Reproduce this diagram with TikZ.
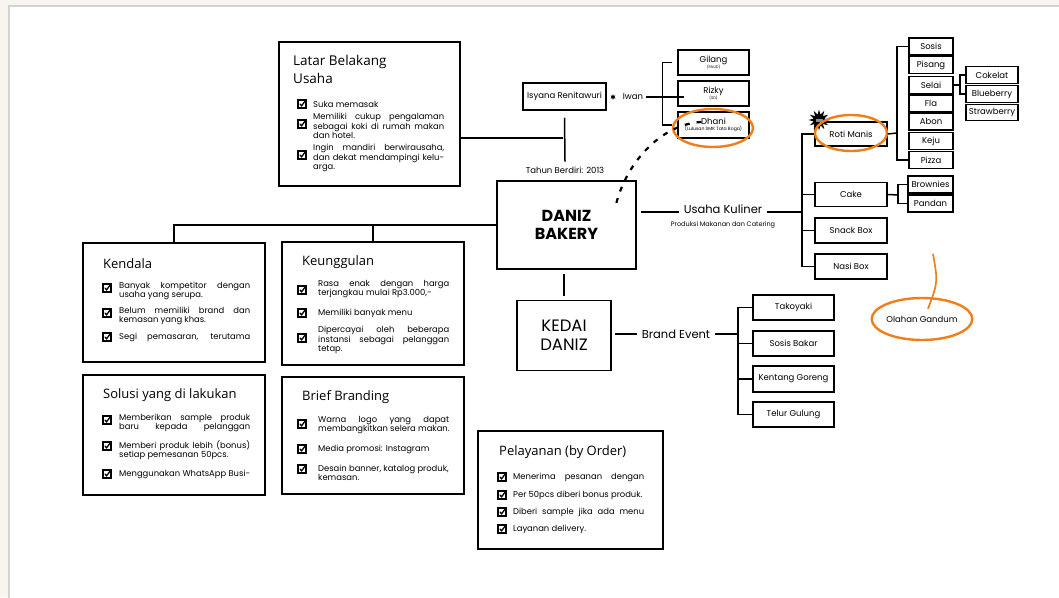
\documentclass[tikz,border=0pt]{standalone}
\usepackage{fontspec}
\setmainfont{Poppins}
\newfontfamily\headfont{Open Sans}
\usetikzlibrary{shapes.geometric}
\definecolor{paper}{HTML}{F8F5EE}
\definecolor{frameC}{HTML}{D3D3D3}
\definecolor{brush}{HTML}{EF7F1A}
\newcommand\jl[1]{\makebox[131pt][s]{#1}}

\begin{document}
\begin{tikzpicture}[x=1pt, y=-1pt,
  bigbox/.style={draw, line width=1.9pt, inner sep=0pt},
  cell/.style={draw, line width=1.5pt, inner sep=0pt, align=center, font=\fontsize{8.5}{9}\selectfont},
  title/.style={font=\headfont\fontsize{13}{17}\selectfont, inner sep=0pt, anchor=west, align=left},
  item/.style={font=\fontsize{8.4}{9.3}\selectfont, inner sep=0pt, anchor=west, align=left},
  tag/.style={inner sep=0pt, font=\fontsize{8.5}{9}\selectfont},
  link/.style={line width=1.5pt},
  hilite/.style={draw=brush, line width=2.4pt},
  chk/.pic={\fill[black] (-4.8,-4.8) rectangle (4.8,4.8);
    \fill[white] (-2.8,-2.8) rectangle (2.8,2.8);
    \draw[black, line width=1.3pt, line cap=round] (-1.9,0.1) -- (-0.4,1.8) -- (3.6,-3.6);}
]
\useasboundingbox (0,0) rectangle (1059,597);
\fill[paper] (0,0) rectangle (1059,597);
\draw[fill=white, draw=frameC, line width=2pt] (9,6) rectangle (1070,610);

% main boxes
\node[bigbox, minimum width=181, minimum height=144] (latar) at (369.5,114) {};
\node[bigbox, minimum width=182, minimum height=119] (kendala) at (174,302.5) {};
\node[bigbox, minimum width=182, minimum height=123] (keung) at (373,303.5) {};
\node[bigbox, minimum width=182, minimum height=120] (solusi) at (174,435) {};
\node[bigbox, minimum width=182, minimum height=117] (brief) at (373,435.5) {};
\node[bigbox, minimum width=185, minimum height=118] (pelayanan) at (570.5,490) {};
\node[bigbox, minimum width=139, minimum height=88, align=center, font=\bfseries\fontsize{16}{18}\selectfont] (daniz) at (566.5,225) {DANIZ\\BAKERY};
\node[bigbox, minimum width=94, minimum height=70, align=center, font=\fontsize{16.5}{19}\selectfont] (kedai) at (564,335.5) {KEDAI\\DANIZ};

% titles
\node[title, anchor=north west, font=\headfont\fontsize{13.5}{18}\selectfont] (latarT) at (293,55) {Latar Belakang\\Usaha};
\node[title] (kendalaT) at (103,264) {Kendala};
\node[title] (keungT) at (302,262) {Keunggulan};
\node[title] (solusiT) at (103,395) {Solusi yang di lakukan};
\node[title] (briefT) at (302,397) {Brief Branding};
\node[title] (pelayananT) at (499,452) {Pelayanan (by Order)};

% items
\node[item] (lat1) at (313,104) {Suka memasak};
\node[item] (lat2) at (313,126) {\jl{Memiliki cukup pengalaman}\\\jl{sebagai koki di rumah makan}\\dan hotel.};
\node[item] (lat3) at (313,158) {\jl{Ingin mandiri berwirausaha,}\\\jl{dan dekat mendampingi kelu-}\\arga.};
\node[item] (ken1) at (119,291) {\jl{Banyak kompetitor dengan}\\usaha yang serupa.};
\node[item] (ken2) at (119,316) {\jl{Belum memiliki brand dan}\\kemasan yang khas.};
\node[item] (ken3) at (119,337) {\jl{Segi pemasaran, terutama}};
\node[item] (keu1) at (318,289) {\jl{Rasa enak dengan harga}\\terjangkau mulai Rp3.000,-};
\node[item] (keu2) at (318,313) {Memiliki banyak menu};
\node[item] (keu3) at (318,340) {\jl{Dipercayai oleh beberapa}\\\jl{instansi sebagai pelanggan}\\tetap.};
\node[item] (sol1) at (119,423) {\jl{Memberikan sample produk}\\\jl{baru kepada pelanggan}};
\node[item] (sol2) at (119,450) {\jl{Memberi produk lebih (bonus)}\\setiap pemesanan 50pcs.};
\node[item] (sol3) at (119,474) {\jl{Menggunakan WhatsApp Busi-}};
\node[item] (bri1) at (318,425) {\jl{Warna logo yang dapat}\\membangkitkan selera makan.};
\node[item] (bri2) at (318,449) {Media promosi: Instagram};
\node[item] (bri3) at (318,473) {Desain banner, katalog produk,\\kemasan.};
\node[item] (pel1) at (513,477) {\jl{Menerima pesanan dengan}};
\node[item] (pel2) at (513,495) {Per 50pcs diberi bonus produk.};
\node[item] (pel3) at (513,512) {\jl{Diberi sample jika ada menu}};
\node[item] (pel4) at (513,529) {Layanan delivery.};

% check boxes
\foreach \y in {104,124,155} \pic at (302,\y) {chk};
\foreach \y in {288,313,337,420,446,474} \pic at (107,\y) {chk};
\foreach \y in {290,313,338,424,449,469} \pic at (302,\y) {chk};
\foreach \y in {477,495,512,529} \pic at (502,\y) {chk};

% founders
\node[cell, minimum width=83, minimum height=27] (isyana) at (564.5,96.5) {Isyana Renitawuri};
\node[star, star points=6, star point ratio=2.2, fill=black, minimum size=6, inner sep=0pt] (sep) at (613,97) {};
\node[tag] (iwan) at (633,97) {Iwan};
\node[tag] (tahun) at (565,170) {Tahun Berdiri: 2013};
\node[cell, minimum width=71, minimum height=25] (gilang) at (713.5,62.5) {Gilang\\[-2.5pt]{\fontsize{3.8}{4}\selectfont (PAUD)}};
\node[cell, minimum width=71, minimum height=25] (rizky) at (713.5,93.5) {Rizky\\[-2.5pt]{\fontsize{3.8}{4}\selectfont (SD)}};
\node[cell, minimum width=71, minimum height=26] (dhani) at (713.5,125) {Dhani\\[-2.5pt]{\fontsize{4.6}{5}\selectfont (Lulusan SMK Tata Boga)}};

% usaha kuliner
\node[tag, font=\fontsize{11.5}{12}\selectfont] (usaha) at (723,209) {Usaha Kuliner};
\node[tag, font=\fontsize{6.5}{7}\selectfont] (usahaSub) at (723,225) {Produksi Makanan dan Catering};
\node[cell, minimum width=72, minimum height=24] (roti) at (851,134) {Roti Manis};
\node[cell, minimum width=72, minimum height=24] (cake) at (851,194.5) {Cake};
\node[cell, minimum width=72, minimum height=25] (snack) at (851,230.5) {Snack Box};
\node[cell, minimum width=72, minimum height=25] (nasi) at (851,266.5) {Nasi Box};
\node[cell, minimum width=44, minimum height=17] (sosis) at (931,46.5) {Sosis};
\node[cell, minimum width=44, minimum height=17] (pisang) at (931,65) {Pisang};
\node[cell, minimum width=44, minimum height=17] (selai) at (931,85) {Selai};
\node[cell, minimum width=44, minimum height=17] (fla) at (931,103.5) {Fla};
\node[cell, minimum width=44, minimum height=17] (abon) at (931,121.5) {Abon};
\node[cell, minimum width=44, minimum height=17] (keju) at (931,141) {Keju};
\node[cell, minimum width=44, minimum height=17] (pizza) at (931,160) {Pizza};
\node[cell, minimum width=52, minimum height=17] (cokelat) at (992,75) {Cokelat};
\node[cell, minimum width=52, minimum height=17] (blueberry) at (992,94) {Blueberry};
\node[cell, minimum width=52, minimum height=16] (strawberry) at (992,112.5) {Strawberry};
\node[cell, minimum width=45, minimum height=17] (brownies) at (930.5,184.5) {Brownies};
\node[cell, minimum width=45, minimum height=17] (pandan) at (930.5,203.5) {Pandan};
\node[star, star points=12, star point ratio=1.9, fill=black, minimum size=21, inner sep=0pt] (burst) at (819,120) {};
\node[fill=black!45, minimum width=7, minimum height=3, inner sep=0pt] (burstTag) at (burst) {};

% brand event
\node[tag, font=\fontsize{11.5}{12}\selectfont] (brand) at (676,334) {Brand Event};
\node[cell, minimum width=81, minimum height=25] (tako) at (793.5,307.5) {Takoyaki};
\node[cell, minimum width=81, minimum height=25] (sosisB) at (793.5,343.5) {Sosis Bakar};
\node[cell, minimum width=81, minimum height=26] (kentang) at (793.5,379) {Kentang Goreng};
\node[cell, minimum width=81, minimum height=25] (telur) at (793.5,414.5) {Telur Gulung};

% orange marks
\node[ellipse, hilite, minimum width=84, minimum height=42, tag] (olahan) at (922,319) {Olahan Gandum};
\draw[hilite] (713,128) ellipse [x radius=40, y radius=19];
\draw[hilite] (851,133) ellipse [x radius=36, y radius=18];
\coordinate (gTop) at (933,254);
\draw[hilite, line width=1.7pt] (gTop) .. controls (938,282) .. ([shift={(6,12)}]olahan.north);

% connectors
\coordinate (tJ) at (563,138);
\draw[link] (latar.east |- tJ) -- (tJ);
\draw[link] ([yshift=-7pt]isyana.south) -- ([yshift=5pt]tahun.north);
\draw[link] (iwan.east) ++(3,0) -- ++(38,0);
\draw[link] ([xshift=-5pt]gilang.west) -- ++(-10,0) |- ([xshift=-5pt]dhani.west);
\draw[link, line width=2.2pt, dash pattern=on 5pt off 7pt] ([shift={(-12,-3)}]dhani.center) .. controls (660,124) and (624,165) .. ([shift={(-22,29)}]daniz.north east);
\draw[link] (daniz.west) -- (kendala.north |- daniz.west) -- (kendala.north);
\draw[link] (keung.north) -- (keung.north |- daniz.west);
\draw[link] ([yshift=4pt]kedai.north) -- ([yshift=-4pt]kedai.north |- daniz.south);

\coordinate (kJ) at (802,212);
\draw[link] ([xshift=4pt]daniz.east |- kJ) -- ([xshift=-5pt]usaha.west |- kJ);
\draw[link] ([xshift=5pt]usaha.east |- kJ) -- (kJ);
\draw[link] (roti.west) -- (roti.west -| kJ) -- (nasi.west -| kJ) -- (nasi.west);
\draw[link] (cake.west -| kJ) -- (cake.west);
\draw[link] (snack.west -| kJ) -- (snack.west);

\coordinate (rJ) at (897,133);
\draw[link] (roti.east) -- (rJ);
\draw[link] (sosis.west) -- (sosis.west -| rJ) -- (pizza.west -| rJ) -- (pizza.west);
\coordinate (sJ) at (960,85);
\draw[link] (selai.east) -- (sJ);
\draw[link] (cokelat.west) -- (cokelat.west -| sJ) -- (blueberry.west -| sJ) -- (blueberry.west);
\coordinate (cJ) at (898,195);
\draw[link] (cake.east) -- (cJ);
\draw[link] (brownies.west) -- (brownies.west -| cJ) -- (pandan.west -| cJ) -- (pandan.west);

\coordinate (bJ) at (738,334);
\draw[link] ([xshift=3pt]kedai.east |- bJ) -- ([xshift=-5pt]brand.west |- bJ);
\draw[link] ([xshift=5pt]brand.east |- bJ) -- (bJ);
\draw[link] (tako.west) -- (tako.west -| bJ) -- (telur.west -| bJ) -- (telur.west);
\draw[link] (sosisB.west -| bJ) -- (sosisB.west);
\draw[link] (kentang.west -| bJ) -- (kentang.west);
\end{tikzpicture}
\end{document}
